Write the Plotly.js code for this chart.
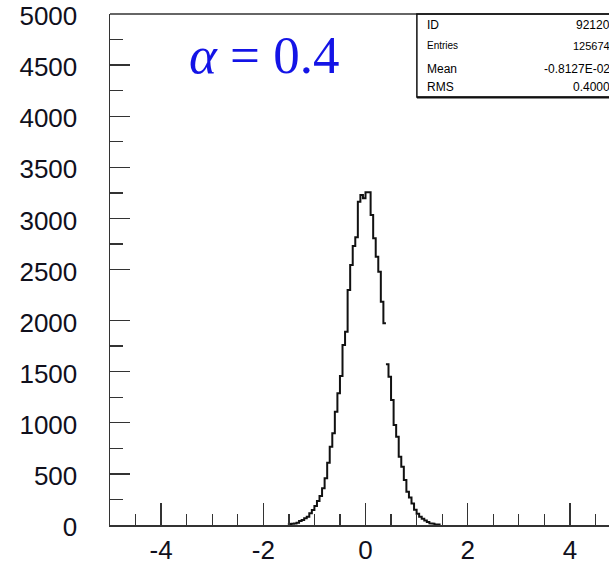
<!DOCTYPE html>
<html>
<head>
<meta charset="utf-8">
<script src="https://cdn.plot.ly/plotly-3.0.1.min.js"></script>
<style>
  html, body { margin: 0; padding: 0; background: #fff; }
  #chart { width: 609px; height: 566px; }
</style>
</head>
<body>
<div id="chart"></div>
<script>
// ---- data ----
const histFirstEdge = -1.5;   // left edge of first non-empty bin
const binWidth = 0.05;
const counts = [
  10, 12, 15, 22, 39, 50, 65, 80, 114, 147,
  186, 235, 284, 359, 457, 610, 766, 897, 1109, 1289,
  1458, 1761, 1891, 2299, 2544, 2730, 2815, 3163, 3229, 3197,
  3255, 3255, 3033, 2805, 2625, 2479, 2185, 1973, 1572, 1451,
  1223, 978, 864, 668, 570, 440, 326, 270, 210, 150,
  110, 80, 60, 45, 30, 16, 12, 8, 5
];
const gapEdge = 0.4;          // the drawn line is broken at this bin edge

const xTickVals = [-4, -2, 0, 2, 4];
const xTickText = ['-4', '-2', '0', '2', '4'];
const xMinorVals = [-4.5, -3.5, -3, -2.5, -1.5, -1, -0.5, 0.5, 1, 1.5, 2.5, 3, 3.5, 4.5];
const yTickVals = [0, 500, 1000, 1500, 2000, 2500, 3000, 3500, 4000, 4500, 5000];
const yTickText = ['0', '500', '1000', '1500', '2000', '2500', '3000', '3500', '4000', '4500', '5000'];
const yMinorVals = [250, 750, 1250, 1750, 2750, 3250, 3750, 4250, 4750];

const statLabels = ['ID', 'Entries', 'Mean', 'RMS'];
const statValues = ['92120', '125674', '-0.8127E-02', '0.4000'];
const alphaText = '<i>α</i> = 0.4';

// ---- build step outline ----
const xs = [], ys = [];
xs.push(histFirstEdge); ys.push(0);
for (let i = 0; i < counts.length; i++) {
  const left = +(histFirstEdge + i * binWidth).toFixed(4);
  const right = +(histFirstEdge + (i + 1) * binWidth).toFixed(4);
  if (Math.abs(left - gapEdge) < 1e-6) { xs.push(null); ys.push(null); }
  xs.push(left); ys.push(counts[i]);
  xs.push(right); ys.push(counts[i]);
}
xs.push(+(histFirstEdge + counts.length * binWidth).toFixed(4)); ys.push(0);

const trace = {
  x: xs, y: ys, type: 'scatter', mode: 'lines',
  line: { color: '#111', width: 2, shape: 'linear' },
  connectgaps: false, hoverinfo: 'skip', showlegend: false
};

const tickFont = { family: '"Liberation Sans", Arial, sans-serif', size: 26, color: '#10101c' };
const statFontL = { family: '"Liberation Sans", Arial, sans-serif', size: 12, color: '#000' };

const statY = [0.978, 0.938, 0.893, 0.857];
const annotations = [{
  text: alphaText, xref: 'paper', yref: 'paper', x: 0.154, y: 0.92,
  xanchor: 'left', yanchor: 'middle', showarrow: false,
  font: { family: '"Liberation Serif", "Times New Roman", serif', size: 53, color: '#1414e6' }
}];
statLabels.forEach((t, i) => {
  annotations.push({ text: t, xref: 'paper', yref: 'paper', x: 0.632, y: statY[i],
    xanchor: 'left', yanchor: 'middle', showarrow: false,
    font: Object.assign({}, statFontL, { size: i === 1 ? 10 : 12 }) });
  annotations.push({ text: statValues[i], xref: 'paper', yref: 'paper', x: 1.006, y: statY[i],
    xanchor: 'right', yanchor: 'middle', showarrow: false,
    font: Object.assign({}, statFontL, { size: i === 1 ? 11 : 12 }) });
});

const layout = {
  width: 609, height: 566,
  margin: { l: 110, r: 0, t: 14, b: 41, pad: 0 },
  paper_bgcolor: '#fff', plot_bgcolor: '#fff',
  xaxis: {
    range: [-5, 4.765], showgrid: false, zeroline: false,
    showline: true, linecolor: '#333', linewidth: 1.5,
    ticks: 'inside', ticklen: 22, tickwidth: 1.3, tickcolor: '#333',
    tickmode: 'array', tickvals: xTickVals, ticktext: xTickText,
    tickfont: tickFont, ticklabelstandoff: 1, ticklabeloverflow: 'allow',
    minor: { tickmode: 'array', tickvals: xMinorVals, ticks: 'inside', ticklen: 11, tickwidth: 1.3, tickcolor: '#333', showgrid: false }
  },
  yaxis: {
    range: [0, 5000], showgrid: false, zeroline: false,
    showline: true, linecolor: '#333', linewidth: 1.5,
    ticks: 'inside', ticklen: 20, tickwidth: 1.3, tickcolor: '#333',
    tickmode: 'array', tickvals: yTickVals, ticktext: yTickText,
    tickfont: tickFont, ticklabelstandoff: 26, ticklabelshift: 2, ticklabeloverflow: 'allow',
    minor: { tickmode: 'array', tickvals: yMinorVals, ticks: 'inside', ticklen: 13, tickwidth: 1.3, tickcolor: '#333', showgrid: false }
  },
  shapes: [
    { type: 'line', xref: 'paper', yref: 'paper', x0: 0, x1: 1.02, y0: 1, y1: 1,
      line: { color: '#333', width: 1.5 } },
    { type: 'rect', xref: 'paper', yref: 'paper', x0: 0.615, x1: 1.05, y0: 0.8376, y1: 1,
      line: { color: '#111', width: 1.5 }, fillcolor: 'rgba(0,0,0,0)' },
    { type: 'line', xref: 'paper', yref: 'paper', x0: 0.615, x1: 1.05, y0: 0.8366, y1: 0.8366,
      line: { color: '#111', width: 2 } }
  ],
  annotations: annotations
};

Plotly.newPlot('chart', [trace], layout, { displayModeBar: false, staticPlot: true });
</script>
</body>
</html>
